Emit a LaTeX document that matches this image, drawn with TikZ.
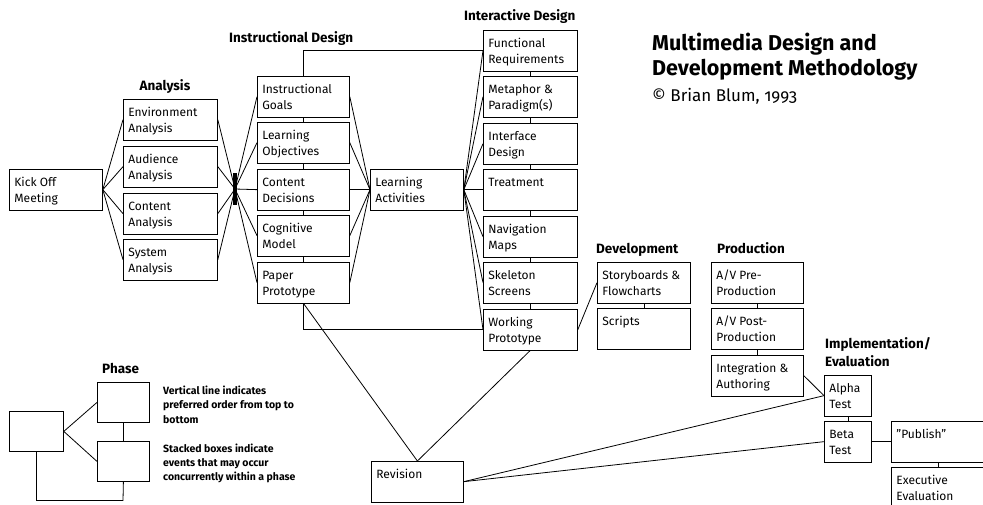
\documentclass[tikz,border=0pt]{standalone}
\usepackage{fontspec}
\setmainfont{Fira Sans}
\newfontfamily\osf[Numbers=OldStyle]{Fira Sans}
\tikzset{
  ln/.style={line width=0.8pt},
  box/.style={draw, line width=0.8pt, rectangle, anchor=north west, inner xsep=5pt, inner ysep=2.75pt, font=\fontsize{12}{15.5}\selectfont},
  emptybox/.style={draw, line width=0.8pt, rectangle, anchor=north west, inner sep=0pt},
  phasetitle/.style={anchor=base west, inner sep=0pt, font=\bfseries\fontsize{13.5}{15}\selectfont},
  legendtext/.style={anchor=base west, inner sep=0pt, font=\bfseries\fontsize{10.5}{12}\selectfont},
}
\newcommand{\mkbox}[5]{\node[box, minimum width=#4pt] (#1) at (#2,#3) {\parbox[c][35pt][t]{\dimexpr#4pt-10pt\relax}{\raggedright\rule{0pt}{14.5pt}#5}};}
\begin{document}
\begin{tikzpicture}[x=1pt,y=-1pt]
\useasboundingbox (0,0) rectangle (983,504);
% titles
\node[anchor=base west, inner sep=0pt, font=\bfseries\fontsize{21.5}{25}\selectfont] (t1) at (652,50) {Multimedia Design and};
\node[anchor=base west, inner sep=0pt, font=\bfseries\fontsize{21.5}{25}\selectfont] (t2) at (652,75) {Development Methodology};
\node[anchor=base west, inner sep=0pt, font=\osf\fontsize{17}{20}\selectfont] (t3) at (652,101) {© Brian Blum, 1993};
\node[phasetitle, anchor=base] (hA) at (165,90) {Analysis};
\node[phasetitle] (hI) at (229,42) {Instructional Design};
\node[phasetitle] (hD) at (464,20) {Interactive Design};
\node[phasetitle] (hV) at (596,253) {Development};
\node[phasetitle] (hP) at (717,253) {Production};
\node[phasetitle] (hE1) at (825,348) {Implementation/};
\node[phasetitle] (hE2) at (825,366) {Evaluation};
\node[phasetitle] (hL) at (102,373) {Phase};
% boxes
\mkbox{ko}{9}{169}{93}{Kick Off\\Meeting}
\mkbox{env}{123}{99}{94}{Environment\\Analysis}
\mkbox{aud}{123}{146}{94}{Audience\\Analysis}
\mkbox{con}{123}{193}{94}{Content\\Analysis}
\mkbox{sys}{123}{239}{94}{System\\Analysis}
\node[fill=black, minimum width=3.5pt, minimum height=32pt, inner sep=0pt] (bar) at (235,189) {};
\mkbox{ig}{257}{76}{92}{Instructional\\Goals}
\mkbox{lo}{257}{122}{92}{Learning\\Objectives}
\mkbox{cd}{257}{169}{92}{Content\\Decisions}
\mkbox{cm}{257}{215}{92}{Cognitive\\Model}
\mkbox{pp}{257}{262}{92}{Paper\\Prototype}
\mkbox{la}{370}{169}{93}{Learning\\Activities}
\mkbox{fr}{483}{30}{94}{Functional\\Requirements}
\mkbox{mp}{483}{76}{94}{Metaphor \&\\Paradigm(s)}
\mkbox{ifd}{483}{123}{94}{Interface\\Design}
\mkbox{tr}{483}{169}{94}{Treatment}
\mkbox{nm}{483}{216}{94}{Navigation\\Maps}
\mkbox{ss}{483}{262}{94}{Skeleton\\Screens}
\mkbox{wp}{483}{309}{94}{Working\\Prototype}
\mkbox{sf}{597}{262}{93}{Storyboards \&\\Flowcharts}
\mkbox{sc}{597}{308}{93}{Scripts}
\mkbox{pre}{711}{262}{92}{A/V Pre-\\Production}
\mkbox{post}{711}{308}{92}{A/V Post-\\Production}
\mkbox{int}{711}{355}{92}{Integration \&\\Authoring}
\mkbox{al}{824}{375}{47}{Alpha\\Test}
\mkbox{be}{824}{421}{47}{Beta\\Test}
\mkbox{pub}{891}{421}{94}{"Publish"}
\mkbox{ex}{891}{467}{94}{Executive\\Evaluation}
\mkbox{rev}{371}{461}{92}{Revision}
% legend
\node[emptybox, minimum width=54pt, minimum height=40pt] (lk) at (9,411) {};
\node[emptybox, minimum width=52pt, minimum height=40pt] (lt) at (97,382) {};
\node[emptybox, minimum width=52pt, minimum height=40pt] (lb) at (97,441) {};
\coordinate (lloop) at (123,500.5);
\node[legendtext] (l1) at (163,394) {Vertical line indicates};
\node[legendtext] (l2) at (163,408.5) {preferred order from top to};
\node[legendtext] (l3) at (163,423) {bottom};
\node[legendtext] (l4) at (163,452) {Stacked boxes indicate};
\node[legendtext] (l5) at (163,466) {events that may occur};
\node[legendtext] (l6) at (163,480) {concurrently within a phase};
% connectors
\foreach \n in {env,aud,con,sys} {\draw[ln] (ko.east) -- (\n.west); \draw[ln] (\n.east) -- (bar.center);}
\foreach \n in {ig,lo,cd,cm,pp} {\draw[ln] (bar.center) -- (\n.west); \draw[ln] (\n.east) -- (la.west);}
\foreach \n in {fr,mp,ifd,tr,nm,ss,wp} {\draw[ln] (la.east) -- (\n.west);}
\draw[ln] (ig.south) -- (lo.north);
\draw[ln] (lo.south) -- (cd.north);
\draw[ln] (cd.south) -- (cm.north);
\draw[ln] (cm.south) -- (pp.north);
\draw[ln] (fr.south) -- (mp.north);
\draw[ln] (mp.south) -- (ifd.north);
\draw[ln] (ifd.south) -- (tr.north);
\draw[ln] (tr.south) -- (nm.north);
\draw[ln] (nm.south) -- (ss.north);
\draw[ln] (ss.south) -- (wp.north);
\draw[ln] (sf.south) -- (sc.north);
\draw[ln] (pre.south) -- (post.north);
\draw[ln] (post.south) -- (int.north);
\draw[ln] (al.south) -- (be.north);
\draw[ln] (pub.south) -- (ex.north);
\draw[ln] (ig.north) |- (fr.west);
\draw[ln] (pp.south) |- (wp.west);
\draw[ln] (wp.east) -- (sf.west);
\draw[ln] (int.east) -- (al.west);
\draw[ln] (pp.south) -- (rev.north);
\draw[ln] (wp.south) -- (rev.north);
\draw[ln] (rev.east) -- (al.west);
\draw[ln] (rev.east) -- (be.west);
\draw[ln] (be.east) -- (pub.west);
\draw[ln] (lk.east) -- (lt.west);
\draw[ln] (lk.east) -- (lb.west);
\draw[ln] (lt.south) -- (lb.north);
\draw[ln] (lk.south) |- (lloop) -- (lb.south);
\end{tikzpicture}
\end{document}
